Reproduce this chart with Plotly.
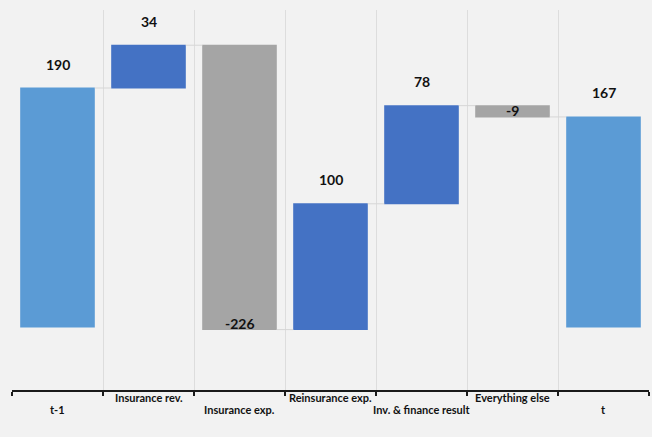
import plotly.graph_objects as go

# Movement from t-1 to t
categories = ["t-1", "Insurance rev.", "Insurance exp.", "Reinsurance exp.",
              "Inv. & finance result", "Everything else", "t"]
values = [190, 34, -226, 100, 78, -9, 167]
measures = ["absolute", "relative", "relative", "relative", "relative", "relative", "total"]

TOTAL_COLOR = "#5B9BD5"
UP_COLOR = "#4472C4"
DOWN_COLOR = "#A5A5A5"
BG = "#F2F2F2"
FONT = "Lato"

x = list(range(len(categories)))

fig = go.Figure(go.Waterfall(
    x=x,
    y=values,
    measure=measures,
    totals=dict(marker=dict(color=TOTAL_COLOR)),
    increasing=dict(marker=dict(color=UP_COLOR)),
    decreasing=dict(marker=dict(color=DOWN_COLOR)),
    connector=dict(mode="between", line=dict(color="#D6D6D6", width=1)),
    textinfo="none",
    hoverinfo="skip",
))

# Value labels: above the top for increases/totals, just inside the bottom for decreases
annotations = []
running = 0
for i, (v, m) in enumerate(zip(values, measures)):
    if m == "absolute":
        start, end = 0, v
        running = v
    elif m == "total":
        start, end = 0, running
    else:
        start, end = running, running + v
        running = end
    top, bottom = max(start, end), min(start, end)
    if v >= 0:
        annotations.append(dict(x=i, y=top, xref="x", yref="y", text=f"<b>{v}</b>",
                                showarrow=False, yanchor="middle", yshift=24,
                                font=dict(family=FONT, size=14, color="#111111", weight=900)))
    else:
        annotations.append(dict(x=i, y=bottom, xref="x", yref="y", text=f"<b>{v}</b>",
                                showarrow=False, yanchor="middle", yshift=6,
                                font=dict(family=FONT, size=14, color="#111111", weight=900)))

# Category labels staggered on two rows
for i, c in enumerate(categories):
    annotations.append(dict(x=i, y=0, xref="x", yref="paper", text=f"<b>{c}</b>",
                            showarrow=False, yanchor="top",
                            yshift=(1 if i % 2 == 1 else -11),
                            font=dict(family=FONT, size=11, color="#111111", weight=900)))

boundaries = [i - 0.5 for i in range(len(categories) + 1)]

fig.update_layout(
    width=652, height=437,
    margin=dict(l=12, r=3, t=10, b=47),
    paper_bgcolor=BG, plot_bgcolor=BG,
    showlegend=False,
    waterfallgap=0.18,
    annotations=annotations,
    xaxis=dict(range=[-0.5, len(categories) - 0.5], tickvals=boundaries,
               ticktext=[""] * len(boundaries), showgrid=True, gridcolor="#DDDDDD",
               gridwidth=1, zeroline=False, showline=True, linecolor="#1A1A1A",
               linewidth=2, ticks="outside", ticklen=4, tickwidth=2,
               tickcolor="#1A1A1A", fixedrange=True),
    yaxis=dict(range=[-50, 252], visible=False, showgrid=False, zeroline=False,
               fixedrange=True),
)

fig.write_html("out.html")
